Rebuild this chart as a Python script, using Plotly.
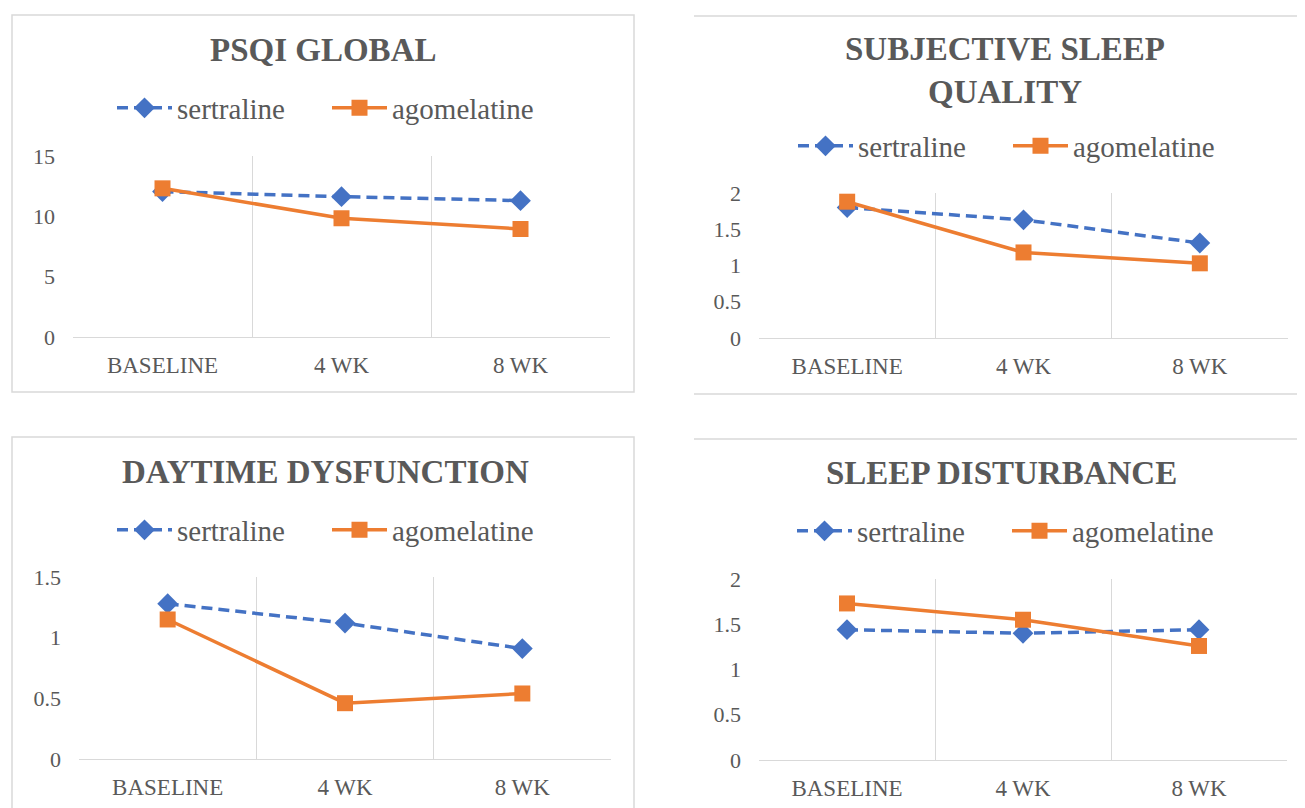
import plotly.graph_objects as go

W, H = 1305, 808
OFF = 8  # page body margin offset compensation

categories = ["BASELINE", "4 WK", "8 WK"]
series_names = ["sertraline", "agomelatine"]

titles = ["PSQI GLOBAL", "SUBJECTIVE SLEEP<br>QUALITY", "DAYTIME DYSFUNCTION", "SLEEP DISTURBANCE"]

psqi_sertraline = [12.05, 11.63, 11.30]
psqi_agomelatine = [12.32, 9.84, 8.95]

ssq_sertraline = [1.80, 1.63, 1.31]
ssq_agomelatine = [1.88, 1.18, 1.03]

dd_sertraline = [1.28, 1.12, 0.91]
dd_agomelatine = [1.15, 0.46, 0.54]

sd_sertraline = [1.44, 1.40, 1.44]
sd_agomelatine = [1.73, 1.55, 1.26]

y_ranges = [[0, 15], [0, 2], [0, 1.5], [0, 2]]
y_dticks = [5, 0.5, 0.5, 0.5]

panel_data = [
    (psqi_sertraline, psqi_agomelatine),
    (ssq_sertraline, ssq_agomelatine),
    (dd_sertraline, dd_agomelatine),
    (sd_sertraline, sd_agomelatine),
]

# layout geometry in pixels: (left, right, top, bottom) of plot areas
plot_px = [
    (73, 610, 156, 337),
    (759, 1288, 193, 338),
    (79, 611, 577, 759),
    (759, 1287, 579, 760),
]
title_px = [(323, 50), (1005, 71), (325, 472), (1001, 473)]
legend_px = [(327, 108), (1008, 146), (327, 530), (1007, 531)]

BLUE = "#4472C4"
ORANGE = "#ED7D31"
GRAY = "#595959"
GRID = "#D9D9D9"
FONT = "Liberation Serif"


def px_x(x):
    return (x - OFF) / W


def px_y(y):
    return 1 - (y - OFF) / H


fig = go.Figure()
layout = dict(
    width=W, height=H, autosize=False,
    margin=dict(l=0, r=0, t=0, b=0, autoexpand=False),
    paper_bgcolor="white", plot_bgcolor="white",
    font=dict(family=FONT, color=GRAY),
    annotations=[], shapes=[],
)

for i, (ser, ago) in enumerate(panel_data):
    n = i + 1
    xa = "x" if n == 1 else f"x{n}"
    ya = "y" if n == 1 else f"y{n}"
    lg = "legend" if n == 1 else f"legend{n}"
    fig.add_trace(go.Scatter(
        x=categories, y=ser, name=series_names[0], mode="lines+markers",
        xaxis=xa, yaxis=ya, legend=lg,
        line=dict(color=BLUE, width=3.5, dash="11px,6px"),
        marker=dict(symbol="diamond", size=16, color=BLUE),
    ))
    fig.add_trace(go.Scatter(
        x=categories, y=ago, name=series_names[1], mode="lines+markers",
        xaxis=xa, yaxis=ya, legend=lg,
        line=dict(color=ORANGE, width=3.5),
        marker=dict(symbol="square", size=16, color=ORANGE),
    ))
    l, r, t, b = plot_px[i]
    xkey = "xaxis" if n == 1 else f"xaxis{n}"
    ykey = "yaxis" if n == 1 else f"yaxis{n}"
    layout[xkey] = dict(
        domain=[px_x(l), px_x(r)], anchor=ya, type="category",
        range=[-0.5, 2.5], tickson="boundaries", showgrid=True,
        gridcolor=GRID, gridwidth=1.3, showline=True, linecolor=GRID, linewidth=1.3,
        ticks="", tickfont=dict(family=FONT, size=23, color=GRAY),
        ticklabelstandoff=7, zeroline=False,
    )
    layout[ykey] = dict(
        domain=[px_y(b), px_y(t)], anchor=xa, range=y_ranges[i],
        dtick=y_dticks[i], tick0=0, showgrid=False, zeroline=False, showline=False,
        ticks="", tickfont=dict(family=FONT, size=22, color=GRAY),
        ticklabelstandoff=17,
    )
    tx, ty = title_px[i]
    layout["annotations"].append(dict(
        text=f"<b>{titles[i]}</b>", x=px_x(tx), y=px_y(ty), xref="paper", yref="paper",
        xanchor="center", yanchor="middle", showarrow=False,
        font=dict(family=FONT, size=33, color=GRAY),
    ))
    lx, ly = legend_px[i]
    layout[lg] = dict(
        orientation="h", x=px_x(lx), y=px_y(ly), xanchor="center", yanchor="middle",
        xref="paper", yref="paper", bgcolor="rgba(0,0,0,0)",
        font=dict(family=FONT, size=29, color=GRAY), itemwidth=55,
        entrywidth=145, entrywidthmode="pixels",
    )

# chart borders
bc = dict(color=GRID, width=1.5)
layout["shapes"] += [
    dict(type="rect", xref="paper", yref="paper", x0=px_x(12), x1=px_x(634),
         y0=px_y(392), y1=px_y(15), line=bc),
    dict(type="line", xref="paper", yref="paper", x0=px_x(694), x1=1,
         y0=px_y(16), y1=px_y(16), line=bc),
    dict(type="line", xref="paper", yref="paper", x0=px_x(694), x1=1,
         y0=px_y(394), y1=px_y(394), line=bc),
    dict(type="rect", xref="paper", yref="paper", x0=px_x(12), x1=px_x(634),
         y0=px_y(830), y1=px_y(437), line=bc),
    dict(type="line", xref="paper", yref="paper", x0=px_x(694), x1=1,
         y0=px_y(439), y1=px_y(439), line=bc),
]

fig.update_layout(**layout)
fig.write_html("out.html")
